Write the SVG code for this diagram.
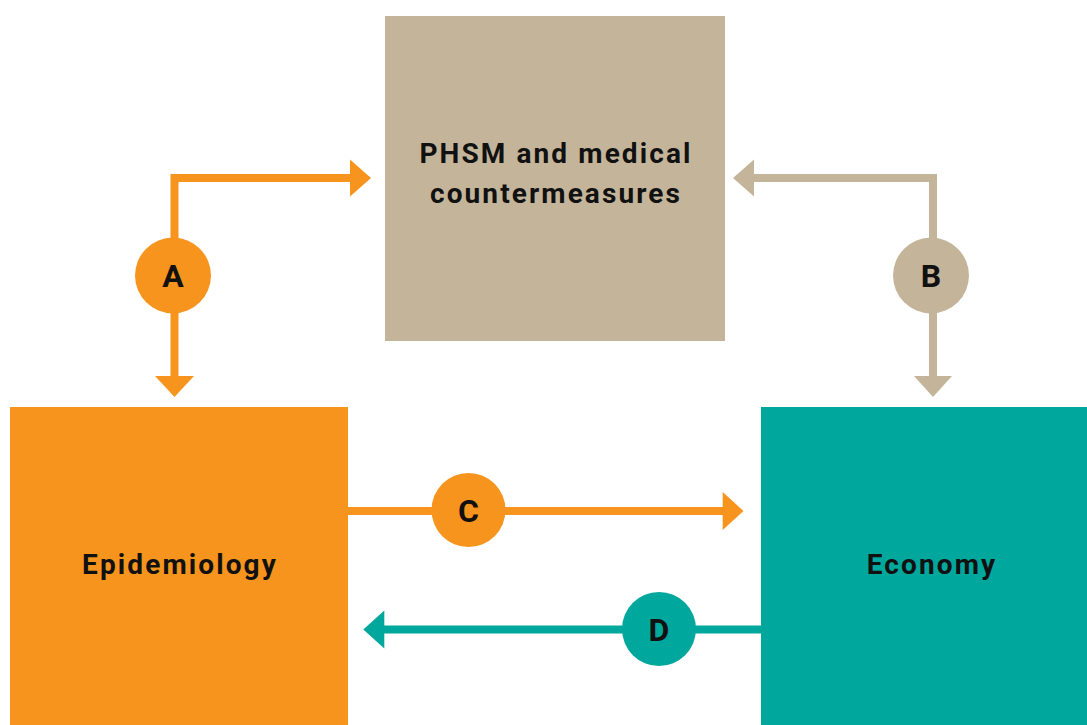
<svg xmlns="http://www.w3.org/2000/svg" width="1087" height="725" viewBox="0 0 1087 725">
<style>
.lbl{font-family:Roboto,"Liberation Sans",sans-serif;font-weight:bold;font-size:28px;fill:#111;text-anchor:middle;letter-spacing:2.1px}
.ltr{font-family:Roboto,"Liberation Sans",sans-serif;font-weight:bold;font-size:32px;fill:#111;text-anchor:middle}
.o{stroke:#F7941D;stroke-width:8;fill:none}
.t{stroke:#C4B59A;stroke-width:8;fill:none}
.g{stroke:#00A79D;stroke-width:8;fill:none}
</style>
<rect width="1087" height="725" fill="#fff"/>
<g id="node-phsm">
<rect x="385" y="16" width="340" height="325" fill="#C4B59A"/>
<text class="lbl" x="556" y="163">PHSM and medical</text>
<text class="lbl" x="556" y="203">countermeasures</text>
</g>
<g id="node-epidemiology">
<rect x="10" y="407" width="338" height="318" fill="#F7941D"/>
<text class="lbl" x="180" y="574">Epidemiology</text>
</g>
<g id="node-economy">
<rect x="761" y="407" width="326" height="318" fill="#00A79D"/>
<text class="lbl" x="932" y="574">Economy</text>
</g>
<g id="connectors">
<polyline class="o" points="174.5,270 174.5,178 352,178"/>
<polygon points="350,159.5 371,178 350,196.5" fill="#F7941D"/>
<line class="o" x1="174.5" y1="275" x2="174.5" y2="378"/>
<polygon points="155,376 194,376 174.5,397" fill="#F7941D"/>
<polyline class="t" points="933,270 933,178 752,178"/>
<polygon points="754,159.5 733,178 754,196.5" fill="#C4B59A"/>
<line class="t" x1="933" y1="275" x2="933" y2="378"/>
<polygon points="914,376 952,376 933,397" fill="#C4B59A"/>
<line class="o" x1="348" y1="511" x2="725" y2="511"/>
<polygon points="722.7,492 743.5,511 722.7,530" fill="#F7941D"/>
<line class="g" x1="761" y1="629.5" x2="382" y2="629.5"/>
<polygon points="384.3,610.5 363.3,629.5 384.3,648.5" fill="#00A79D"/>
</g>
<g id="badge-a"><circle cx="173" cy="275.5" r="38" fill="#F7941D"/><text class="ltr" x="173" y="287">A</text></g>
<g id="badge-b"><circle cx="931" cy="275.5" r="38" fill="#C4B59A"/><text class="ltr" x="931" y="287">B</text></g>
<g id="badge-c"><circle cx="468.5" cy="510" r="37" fill="#F7941D"/><text class="ltr" x="468.5" y="522">C</text></g>
<g id="badge-d"><circle cx="659" cy="629" r="37" fill="#00A79D"/><text class="ltr" x="659" y="641">D</text></g>
</svg>
